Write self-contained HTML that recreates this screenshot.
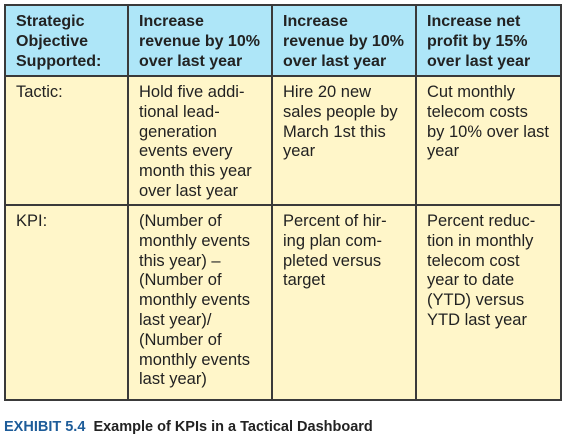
<!DOCTYPE html>
<html><head><meta charset="utf-8"><style>
body{margin:0;width:564px;height:441px;background:#fff;position:relative;font-family:"Liberation Sans",Arial,sans-serif;overflow:hidden}
.c{position:absolute;box-sizing:border-box;border-right:2px solid #3a3a3a;border-bottom:2px solid #3a3a3a;padding:6px 0 0 10px;font-size:16.5px;line-height:19.8px;color:#222;white-space:nowrap}
.h{background:#aee6f8;font-weight:bold;font-size:16px}
.b{background:#fff6c9}
.l{border-left:2px solid #3a3a3a}
.t{border-top:2px solid #3a3a3a}
#cap{position:absolute;left:4px;top:419px;font-size:14.5px;font-weight:bold;color:#222}
#cap span{color:#1d5c99}
</style></head><body>
<div>
<div class="c h l t" style="left:4px;top:4px;width:125px;height:73px">Strategic<br>Objective<br>Supported:</div>
<div class="c h t" style="left:129px;top:4px;width:144px;height:73px">Increase<br>revenue by 10%<br>over last year</div>
<div class="c h t" style="left:273px;top:4px;width:144px;height:73px">Increase<br>revenue by 10%<br>over last year</div>
<div class="c h t" style="left:417px;top:4px;width:145px;height:73px">Increase net<br>profit by 15%<br>over last year</div>

<div class="c b l" style="left:4px;top:77px;width:125px;height:129px">Tactic:</div>
<div class="c b" style="left:129px;top:77px;width:144px;height:129px">Hold five addi-<br>tional lead-<br>generation<br>events every<br>month this year<br>over last year</div>
<div class="c b" style="left:273px;top:77px;width:144px;height:129px">Hire 20 new<br>sales people by<br>March 1st this<br>year</div>
<div class="c b" style="left:417px;top:77px;width:145px;height:129px">Cut monthly<br>telecom costs<br>by 10% over last<br>year</div>

<div class="c b l" style="left:4px;top:206px;width:125px;height:195px">KPI:</div>
<div class="c b" style="left:129px;top:206px;width:144px;height:195px">(Number of<br>monthly events<br>this year) –<br>(Number of<br>monthly events<br>last year)/<br>(Number of<br>monthly events<br>last year)</div>
<div class="c b" style="left:273px;top:206px;width:144px;height:195px">Percent of hir-<br>ing plan com-<br>pleted versus<br>target</div>
<div class="c b" style="left:417px;top:206px;width:145px;height:195px">Percent reduc-<br>tion in monthly<br>telecom cost<br>year to date<br>(YTD) versus<br>YTD last year</div>
</div>
<div id="cap"><span>EXHIBIT 5.4</span>&nbsp; Example of KPIs in a Tactical Dashboard</div>
</body></html>
